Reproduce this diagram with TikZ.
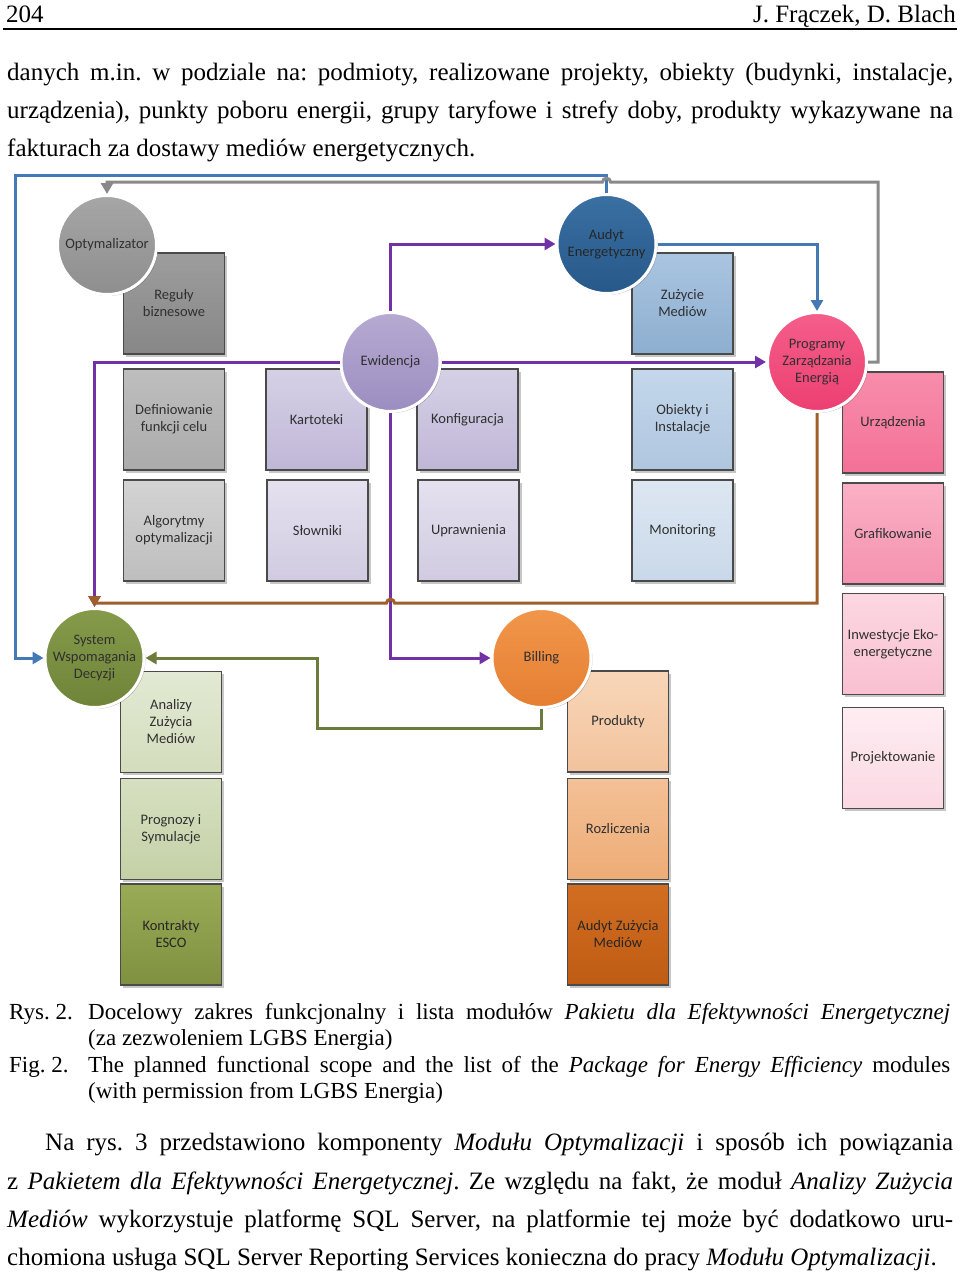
\documentclass[tikz,border=0pt]{standalone}
\usepackage{fontspec}
\setmainfont{Liberation Serif}
\newfontfamily\calfont{Carlito}
\usetikzlibrary{arrows.meta,shadows}
\frenchspacing
\definecolor{txt}{HTML}{303030}
\definecolor{boxborder}{HTML}{4A4A4A}
\definecolor{cblue}{HTML}{4479B6}
\definecolor{cgray}{HTML}{8A8A8A}
\definecolor{cpurple}{HTML}{7331A6}
\definecolor{cbrown}{HTML}{A05E2A}
\definecolor{cgreen}{HTML}{6A7B3C}
% fills (top, bottom)
\definecolor{optT}{HTML}{A6A6A6}\definecolor{optB}{HTML}{8E8E8E}
\definecolor{regT}{HTML}{9D9D9D}\definecolor{regB}{HTML}{878787}
\definecolor{defT}{HTML}{BEBEBE}\definecolor{defB}{HTML}{ABABAB}
\definecolor{algT}{HTML}{D3D3D3}\definecolor{algB}{HTML}{BEBEBE}
\definecolor{ewiT}{HTML}{B6AAD2}\definecolor{ewiB}{HTML}{9C8DC0}
\definecolor{karT}{HTML}{D6D0E6}\definecolor{karB}{HTML}{C0B7D7}
\definecolor{sloT}{HTML}{E5E1EF}\definecolor{sloB}{HTML}{D1CAE1}
\definecolor{audT}{HTML}{3B70A2}\definecolor{audB}{HTML}{27588A}
\definecolor{zuzT}{HTML}{A9C5E0}\definecolor{zuzB}{HTML}{8EAED0}
\definecolor{obiT}{HTML}{C4D7EB}\definecolor{obiB}{HTML}{AFC6DF}
\definecolor{monT}{HTML}{DDE7F2}\definecolor{monB}{HTML}{C9D8E9}
\definecolor{proT}{HTML}{F55E8A}\definecolor{proB}{HTML}{EC3F72}
\definecolor{urzT}{HTML}{F88DAB}\definecolor{urzB}{HTML}{F37196}
\definecolor{graT}{HTML}{FAB0C5}\definecolor{graB}{HTML}{F592B0}
\definecolor{inwT}{HTML}{FCD7E2}\definecolor{inwB}{HTML}{F9C0D1}
\definecolor{prjT}{HTML}{FEEDF2}\definecolor{prjB}{HTML}{FBD8E3}
\definecolor{sysT}{HTML}{869A4B}\definecolor{sysB}{HTML}{6F8438}
\definecolor{anaT}{HTML}{E2E9D4}\definecolor{anaB}{HTML}{D3DDBC}
\definecolor{prgT}{HTML}{D6E0C1}\definecolor{prgB}{HTML}{C4D1A6}
\definecolor{konT}{HTML}{99AB56}\definecolor{konB}{HTML}{7F9140}
\definecolor{bilT}{HTML}{F1964B}\definecolor{bilB}{HTML}{E57F32}
\definecolor{pduT}{HTML}{F8D6B9}\definecolor{pduB}{HTML}{F2C39C}
\definecolor{rozT}{HTML}{F4C096}\definecolor{rozB}{HTML}{EDAC76}
\definecolor{azmT}{HTML}{D16E21}\definecolor{azmB}{HTML}{BF5C14}
\begin{document}
\begin{tikzpicture}[x=1pt,y=-1pt,
  shd/.style={top color=#1T, bottom color=#1B},
  box/.style={rectangle, draw=boxborder, line width=1.2pt, minimum width=101pt, minimum height=101pt,
    inner sep=2pt, align=center, font=\calfont\fontsize{14.5}{17}\selectfont, text=txt,
    drop shadow={shadow xshift=2.5pt,shadow yshift=-2.5pt,opacity=.22,fill=black}},
  circ/.style={circle, draw=white, line width=3pt, minimum size=99pt, inner sep=0pt, align=center,
    font=\calfont\fontsize{14.5}{17}\selectfont, text=txt,
    drop shadow={shadow xshift=1.5pt,shadow yshift=-1.5pt,opacity=.25,fill=black}},
  conn/.style={line width=3pt, -{Triangle[length=11pt,width=12pt]}},
  body/.style={inner sep=0pt, anchor=base west, font=\fontsize{25}{30}\selectfont},
  captxt/.style={inner sep=0pt, anchor=base west, font=\fontsize{23}{27}\selectfont}
]
\useasboundingbox[fill=white] (0,0) rectangle (960,1275);

% header
\node[body] (pg) at (6,22) {204};
\node[body, anchor=base east] (au) at (956,22) {J. Frączek, D. Blach};
\draw[line width=1.5pt] (3,29) -- (957,29);

% body text
\node[body] (b1) at (7,80) {\makebox[946pt][s]{danych m.in. w podziale na: podmioty, realizowane projekty, obiekty (budynki, instalacje,}};
\node[body] (b2) at (7,118) {\makebox[946pt][s]{urządzenia), punkty poboru energii, grupy taryfowe i strefy doby, produkty wykazywane na}};
\node[body] (b3) at (7,156) {fakturach za dostawy mediów energetycznych.};

% boxes
\node[box, shd=reg] (reg) at (174,303.5) {Reguły\\biznesowe};
\node[box, shd=def] (def) at (174,419.5) {Definiowanie\\funkcji celu};
\node[box, shd=alg] (alg) at (174,530.5) {Algorytmy\\optymalizacji};
\node[box, shd=kar] (kar) at (316.5,419.5) {Kartoteki};
\node[box, shd=slo] (slo) at (317.5,530.5) {Słowniki};
\node[box, shd=kar] (kon) at (467.5,419.5) {Konfiguracja};
\node[box, shd=slo] (upr) at (468.5,530.5) {Uprawnienia};
\node[box, shd=zuz] (zuz) at (682.5,303.5) {Zużycie\\Mediów};
\node[box, shd=obi] (obi) at (682.5,419.5) {Obiekty i\\Instalacje};
\node[box, shd=mon] (mon) at (682.5,530.5) {Monitoring};
\node[box, shd=urz] (urz) at (893,422.5) {Urządzenia};
\node[box, shd=gra] (gra) at (893,533.5) {Grafikowanie};
\node[box, shd=inw] (inw) at (893,644) {Inwestycje Eko-\\energetyczne};
\node[box, shd=prj] (prj) at (893,758) {Projektowanie};
\node[box, shd=ana] (ana) at (171,722) {Analizy\\Zużycia\\Mediów};
\node[box, shd=prg] (prg) at (171,829) {Prognozy i\\Symulacje};
\node[box, shd=kon, text=black!85] (esc) at (171,934.5) {Kontrakty\\ESCO};
\node[box, shd=pdu] (pdu) at (618,721.5) {Produkty};
\node[box, shd=roz] (roz) at (618,829) {Rozliczenia};
\node[box, shd=azm, text=black!85] (azm) at (618,934.5) {Audyt Zużycia\\Mediów};

% circles
\node[circ, shd=opt] (opt) at (107,245) {Optymalizator};
\node[circ, shd=ewi] (ewi) at (390.5,362) {Ewidencja};
\node[circ, shd=aud, text=black!85] (aud) at (606.5,244) {Audyt\\Energetyczny};
\node[circ, shd=pro] (pro) at (817,362) {Programy\\Zarządzania\\Energią};
\node[circ, shd=sys] (sys) at (94.5,658) {System\\Wspomagania\\Decyzji};
\node[circ, shd=bil] (bil) at (541.5,658) {Billing};

% connectors
\draw[conn, cblue] (aud.north) -- (aud.north |- 0,175) -| (15,658) -- (sys.west);
\draw[conn, cgray] (pro.east) -- (878,362) -- (878,182) -- (610.5,182)
  .. controls (610.5,177) and (602.5,177) .. (602.5,182) -- (107,182) -- (opt.north);
\draw[conn, cblue] (aud.east) -| (pro.north);
\draw[conn, cpurple] (ewi.north) |- (aud.west);
\draw[conn, cpurple] (ewi.east) -- (pro.west);
\draw[conn, cpurple] (ewi.south) |- (bil.west);
\draw[conn, cpurple] (ewi.west) -| (sys.north);
\draw[conn, cbrown] (pro.south) -- (817,603) -- (394.5,603)
  .. controls (394.5,598) and (386.5,598) .. (386.5,603) -- (94.5,603) -- (sys.north);
\draw[conn, cgreen] (bil.south) -- (541.5,728) -- (317,728) -- (317,658) -- (sys.east);

% caption
\node[captxt] (r2) at (9,1019) {Rys. 2.};
\node[captxt] (c1) at (88,1019) {\makebox[862pt][s]{Docelowy zakres funkcjonalny i lista modułów \textit{Pakietu dla Efektywności Energetycznej}}};
\node[captxt] (c2) at (88,1045) {(za zezwoleniem LGBS Energia)};
\node[captxt] (f2) at (9,1072) {Fig. 2.};
\node[captxt] (c3) at (88,1072) {\makebox[862pt][s]{The planned functional scope and the list of the \textit{Package for Energy Efficiency} modules}};
\node[captxt] (c4) at (88,1098) {(with permission from LGBS Energia)};

% final paragraph
\node[body] (p1) at (45,1150) {\makebox[908pt][s]{Na rys. 3 przedstawiono komponenty \textit{Modułu Optymalizacji} i sposób ich powiązania}};
\node[body] (p2) at (7,1189) {\makebox[946pt][s]{z \textit{Pakietem dla Efektywności Energetycznej}. Ze względu na fakt, że moduł \textit{Analizy Zużycia}}};
\node[body] (p3) at (7,1227) {\makebox[946pt][s]{\textit{Mediów} wykorzystuje platformę SQL Server, na platformie tej może być dodatkowo uru-}};
\node[body] (p4) at (7,1265) {chomiona usługa SQL Server Reporting Services konieczna do pracy \textit{Modułu Optymalizacji}.};
\end{tikzpicture}
\end{document}
